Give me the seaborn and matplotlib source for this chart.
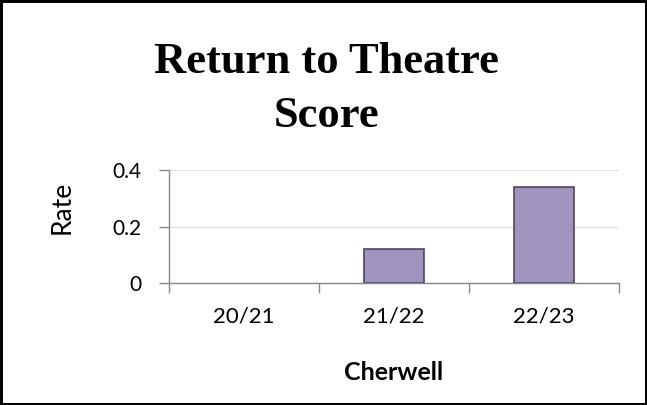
import pandas as pd
import matplotlib.pyplot as plt
import seaborn as sns

# Chart data
years = ["20/21", "21/22", "22/23"]
rates = [0.0, 0.12, 0.34]
y_ticks = [0, 0.2, 0.4]
y_tick_labels = ["0", "0.2", "0.4"]

df = pd.DataFrame({"Year": years, "Rate": rates})

sns.set_style("white", {"xtick.bottom": True, "ytick.left": True})
plt.rcParams['font.family'] = ['Lato', 'DejaVu Sans']
plt.rcParams['text.color'] = 'black'
plt.rcParams['xtick.color'] = '#888888'
plt.rcParams['ytick.color'] = '#888888'
plt.rcParams['xtick.labelcolor'] = 'black'
plt.rcParams['ytick.labelcolor'] = 'black'
plt.rcParams['axes.labelcolor'] = 'black'

fig = plt.figure(figsize=(6.47, 4.05), dpi=100, linewidth=2.5, edgecolor='black')
ax = fig.add_axes([0.261, 0.301, 0.696, 0.279])

sns.barplot(data=df, x="Year", y="Rate", color="#A093BE", edgecolor="#4E4466",
            linewidth=1.2, width=0.4, saturation=1, ax=ax)

# empty bars are not drawn in the original
for p in ax.patches:
    if p.get_height() == 0:
        p.set_visible(False)

ax.set_xlim(-0.5, 2.5)
ax.set_ylim(0, 0.4)
ax.set_yticks(y_ticks)
ax.set_yticklabels(y_tick_labels)
ax.yaxis.grid(True, color="#E4E4E4", linewidth=1)
ax.set_axisbelow(True)

# tick marks at category boundaries, labels at category centres
ax.set_xticks([i - 0.5 for i in range(len(years) + 1)], minor=True)
ax.tick_params(axis='x', which='major', length=0, pad=17, labelsize=16)
ax.tick_params(axis='x', which='minor', length=7, width=1, direction='out')
ax.tick_params(axis='y', length=7, width=1, direction='out', pad=13, labelsize=15)

for side in ['top', 'right']:
    ax.spines[side].set_visible(False)
for side in ['left', 'bottom']:
    ax.spines[side].set_color("#888888")
    ax.spines[side].set_linewidth(1)

ax.set_ylabel("Rate", fontsize=19)
ax.yaxis.set_label_coords(-0.21, 0.67)
ax.set_xlabel("Cherwell", fontsize=18, fontweight='bold')
ax.xaxis.set_label_coords(0.5, -0.69)

fig.text(0.504, 0.820, "Return to Theatre", ha='center', va='baseline',
         fontsize=32, fontweight='bold', family='Liberation Serif')
fig.text(0.504, 0.686, "Score", ha='center', va='baseline',
         fontsize=32, fontweight='bold', family='Liberation Serif')

fig.savefig("out.png", dpi=100)
